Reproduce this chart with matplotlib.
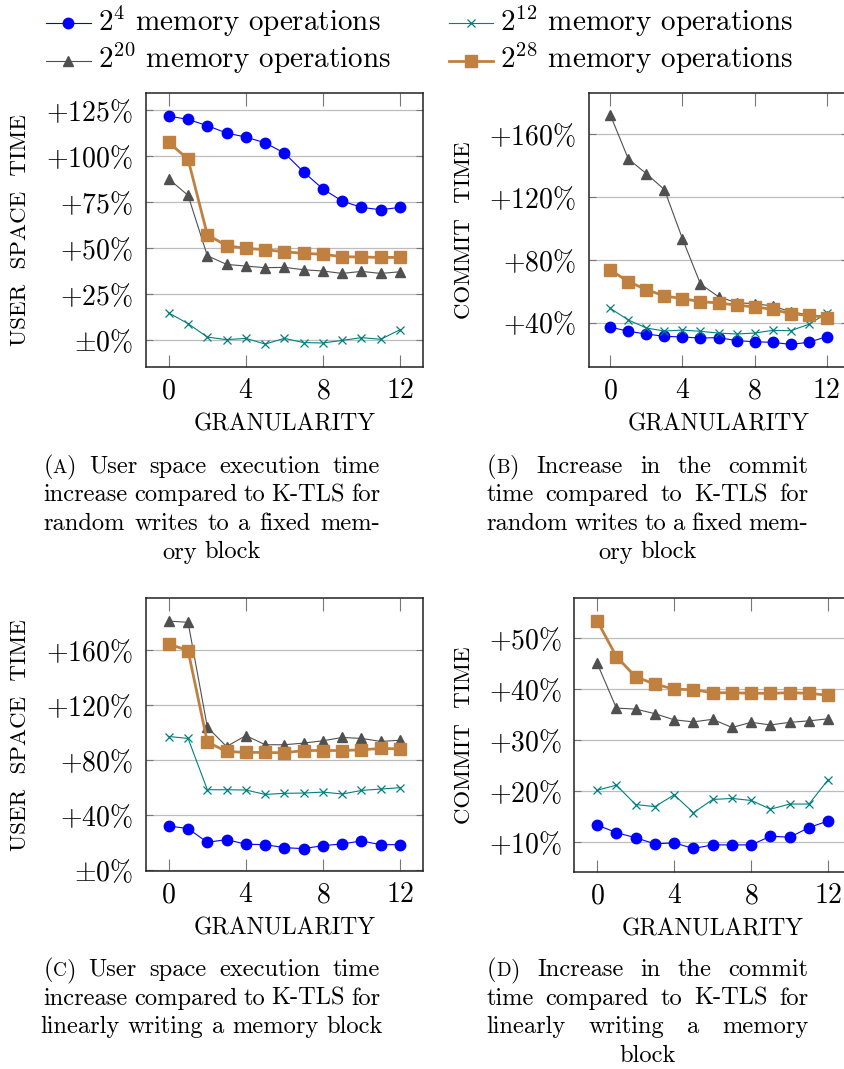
import matplotlib
matplotlib.use('Agg')
import matplotlib.pyplot as plt
from matplotlib.lines import Line2D
from matplotlib.ticker import FuncFormatter

plt.rcParams['font.family'] = 'cmr10'
plt.rcParams['mathtext.fontset'] = 'cm'
plt.rcParams['axes.formatter.use_mathtext'] = True

W, H = 844, 1069

granularity = list(range(13))
series_labels = [r'$2^{4}$ memory operations', r'$2^{12}$ memory operations',
                 r'$2^{20}$ memory operations', r'$2^{28}$ memory operations']

# (a) random writes, user space time increase [%]
rand_user_2_4 = [121.7, 119.9, 116.5, 112.5, 110.3, 107.2, 101.6, 91.3, 82.1, 75.5, 72.1, 70.8, 72.1]
rand_user_2_12 = [14.7, 8.9, 1.6, 0.2, 0.9, -2.2, 0.9, -1.4, -1.6, -0.2, 1.3, 0.4, 5.6]
rand_user_2_20 = [87.5, 78.6, 45.8, 41.1, 40.2, 39.3, 39.5, 38.2, 37.5, 36.2, 37.3, 36.2, 37.1]
rand_user_2_28 = [107.4, 98.2, 57.2, 51.3, 49.8, 49.1, 48.0, 47.1, 46.6, 45.3, 45.1, 44.9, 44.9]

# (b) random writes, commit time increase [%]
rand_commit_2_4 = [37.2, 34.5, 32.8, 31.3, 30.9, 30.2, 30.5, 28.6, 27.9, 27.5, 26.2, 27.5, 31.1]
rand_commit_2_12 = [49.1, 41.7, 36.6, 34.7, 35.3, 34.5, 33.4, 32.8, 33.4, 35.1, 34.9, 38.9, 45.9]
rand_commit_2_20 = [172.1, 144.1, 134.8, 124.6, 93.4, 64.6, 56.5, 52.7, 52.1, 50.6, 47.0, 45.0, 44.0]
rand_commit_2_28 = [73.5, 66.1, 61.0, 57.0, 55.3, 53.4, 52.5, 51.2, 50.0, 48.5, 45.7, 44.7, 43.2]

# (c) linear writes, user space time increase [%]
lin_user_2_4 = [32.0, 30.1, 20.1, 22.1, 18.7, 18.4, 16.2, 15.5, 17.7, 18.9, 21.1, 18.4, 18.4]
lin_user_2_12 = [97.2, 95.8, 58.4, 58.4, 58.2, 55.0, 55.8, 56.0, 56.7, 55.3, 57.9, 58.9, 59.9]
lin_user_2_20 = [181.3, 180.4, 104.0, 89.9, 97.9, 91.2, 91.2, 92.4, 94.1, 96.5, 95.8, 93.6, 94.5]
lin_user_2_28 = [164.6, 159.8, 93.1, 86.3, 85.6, 85.6, 85.3, 87.0, 87.0, 87.0, 87.5, 88.5, 88.2]

# (d) linear writes, commit time increase [%]
lin_commit_2_4 = [13.4, 11.9, 10.9, 9.7, 9.9, 8.8, 9.5, 9.5, 9.5, 11.2, 11.0, 12.9, 14.2]
lin_commit_2_12 = [20.2, 21.2, 17.4, 17.0, 19.3, 15.8, 18.4, 18.6, 18.2, 16.5, 17.5, 17.5, 22.3]
lin_commit_2_20 = [45.1, 36.3, 36.1, 35.2, 34.0, 33.6, 34.1, 32.5, 33.5, 33.0, 33.5, 33.8, 34.2]
lin_commit_2_28 = [53.4, 46.4, 42.4, 41.0, 40.0, 39.9, 39.3, 39.3, 39.2, 39.2, 39.3, 39.2, 38.8]

yticks_a = [0, 25, 50, 75, 100, 125]
yticks_b = [40, 80, 120, 160]
yticks_c = [0, 40, 80, 120, 160]
yticks_d = [10, 20, 30, 40, 50]

caption_a = ['(A) User space execution time', 'increase compared to K-TLS for',
             'random writes to a fixed mem-', 'ory block']
caption_b = ['(B) Increase in the commit', 'time compared to K-TLS for',
             'random writes to a fixed mem-', 'ory block']
caption_c = ['(C) User space execution time', 'increase compared to K-TLS for',
             'linearly writing a memory block']
caption_d = ['(D) Increase in the commit', 'time compared to K-TLS for',
             'linearly writing a memory', 'block']

# pgfplots-like styles: blue circles, teal crosses, darkgray triangles, brown squares
styles = [
    dict(color='#0000ff', marker='o', markersize=7.5, lw=0.8),
    dict(color='#008080', marker='x', markersize=5.5, mew=0.9, lw=0.8),
    dict(color='#505050', marker='^', markersize=6.5, lw=0.8),
    dict(color='#c08040', marker='s', markersize=8.5, lw=2.0),
]


def fx(px):
    return px / W


def fy(py):
    return 1 - py / H


def pct(v, pos):
    if abs(v) < 1e-9:
        return r'$\pm0\%$'
    return r'$+%d\%%$' % v


fig = plt.figure(figsize=(W / 100, H / 100), dpi=100)


def make_panel(box, series, yticks, ylim, ylabel, ylabel_x):
    x0, x1, y0, y1 = box
    ax = fig.add_axes([fx(x0), fy(y1), (x1 - x0) / W, (y1 - y0) / H])
    for vals, st in zip(series, styles):
        ax.plot(granularity, vals, clip_on=False, **st)
    ax.set_xlim(-1.2, 13.2)
    ax.set_ylim(*ylim)
    ax.set_xticks([0, 4, 8, 12])
    ax.set_yticks(yticks)
    ax.yaxis.set_major_formatter(FuncFormatter(pct))
    ax.yaxis.grid(True, color='#bdbdbd', lw=0.9)
    ax.set_axisbelow(True)
    ax.tick_params(axis='x', direction='in', top=True, length=9, width=0.8,
                   color='#777777', labelsize=20, pad=8)
    ax.tick_params(axis='y', direction='in', right=True, length=5, width=0.8,
                   color='#777777', labelsize=20, pad=9)
    for sp in ax.spines.values():
        sp.set_color('#222222')
        sp.set_linewidth(1.1)
    xc = (x0 + x1) / 2
    fig.text(fx(xc), fy(y1 + 63.5), 'GRANULARITY', ha='center', va='baseline', fontsize=17)
    fig.text(fx(ylabel_x), fy((y0 + y1) / 2), ylabel, rotation=90, rotation_mode='anchor',
             ha='center', va='baseline', fontsize=16.5)
    return ax


make_panel((145.7, 423.1, 93.3, 366.7),
           [rand_user_2_4, rand_user_2_12, rand_user_2_20, rand_user_2_28],
           yticks_a, (-14.5, 134.1), 'USER  SPACE  TIME', 25.8)
make_panel((588.7, 848.3, 93.3, 366.7),
           [rand_commit_2_4, rand_commit_2_12, rand_commit_2_20, rand_commit_2_28],
           yticks_b, (12.0, 185.9), 'COMMIT  TIME', 469.5)
make_panel((145.7, 423.1, 598.3, 871.0),
           [lin_user_2_4, lin_user_2_12, lin_user_2_20, lin_user_2_28],
           yticks_c, (-0.8, 197.9), 'USER  SPACE  TIME', 25.8)
make_panel((574.0, 851.4, 598.3, 871.7),
           [lin_commit_2_4, lin_commit_2_12, lin_commit_2_20, lin_commit_2_28],
           yticks_d, (4.25, 57.8), 'COMMIT  TIME', 469.5)

# legend, two entries per row
legend_slots = [(45.7, 90.7, 22.7, 30.7), (449.4, 492.5, 22.7, 30.7),
                (45.7, 90.7, 61.0, 68.3), (449.4, 492.5, 61.0, 68.3)]
for label, st, (hx0, hx1, hy, base) in zip(series_labels, styles, legend_slots):
    fig.add_artist(Line2D([fx(hx0), fx(hx1)], [fy(hy), fy(hy)], color=st['color'], lw=st['lw']))
    mk = {k: v for k, v in st.items() if k != 'lw'}
    fig.add_artist(Line2D([fx((hx0 + hx1) / 2)], [fy(hy)], linestyle='none', **mk))
    fig.text(fx(hx1 + 7), fy(base), label, ha='left', va='baseline', fontsize=21)

renderer = fig.canvas.get_renderer()


def text_width(s, size):
    t = fig.text(0, 0, s, fontsize=size)
    w = t.get_window_extent(renderer).width
    t.remove()
    return w


def word_pieces(word):
    # "(A)" style labels get a small-caps letter
    if len(word) == 3 and word[0] == '(' and word[2] == ')':
        return [('(', 1.0), (word[1], 0.78), (')', 1.0)]
    return [(word, 1.0)]


def draw_caption(lines, left, right, first_base, step, size=17.6):
    space = text_width('a a', size) - text_width('aa', size)
    for i, line in enumerate(lines):
        words = [word_pieces(w) for w in line.split()]
        widths = [sum(text_width(s, size * k) for s, k in pcs) for pcs in words]
        if i < len(lines) - 1 and len(words) > 1:
            gap = (right - left - sum(widths)) / (len(words) - 1)
            x = left
        else:
            gap = space
            x = left + (right - left - sum(widths) - space * (len(words) - 1)) / 2
        y = fy(first_base + i * step)
        for pcs, w in zip(words, widths):
            xx = x
            for s, k in pcs:
                fig.text(fx(xx), y, s, fontsize=size * k, ha='left', va='baseline')
                xx += text_width(s, size * k)
            x += w + gap


draw_caption(caption_a, 43.3, 380.0, 472.7, 28.6)
draw_caption(caption_b, 486.7, 808.3, 472.7, 28.6)
draw_caption(caption_c, 43.3, 380.0, 976.0, 28.6)
draw_caption(caption_d, 486.7, 808.3, 976.0, 28.6)

fig.savefig('out.png', dpi=100)
